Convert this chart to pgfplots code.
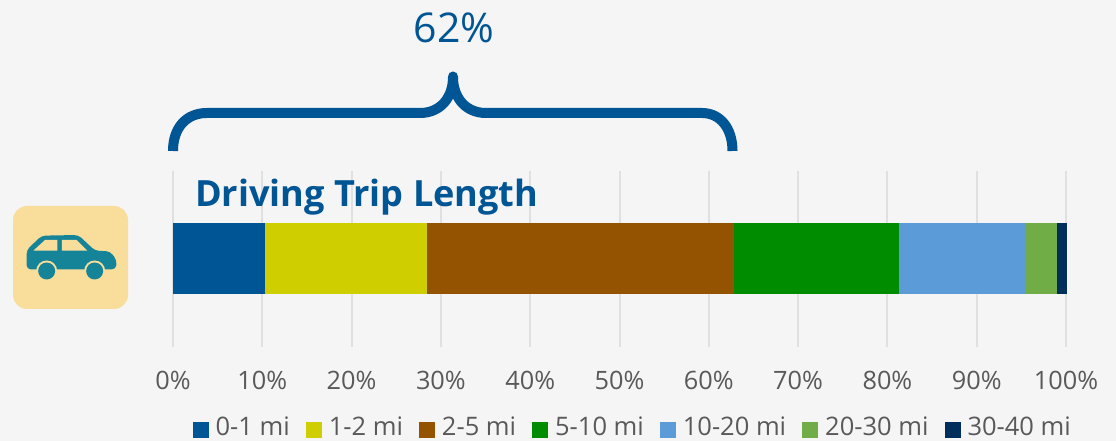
\documentclass[border=0pt]{standalone}
\usepackage{pgfplots}
\pgfplotsset{compat=1.18}
\usepackage{fontspec}
\setmainfont{Open Sans}
\definecolor{bg}{HTML}{F5F5F5}
\definecolor{c1}{HTML}{005594}
\definecolor{c2}{HTML}{CFCE00}
\definecolor{c3}{HTML}{935300}
\definecolor{c4}{HTML}{008C00}
\definecolor{c5}{HTML}{5B9BD8}
\definecolor{c6}{HTML}{70AD47}
\definecolor{c7}{HTML}{002F5C}
\definecolor{gridc}{HTML}{E0E0E0}
\definecolor{txt}{HTML}{595959}
\definecolor{iconbg}{HTML}{F8DD9B}
\definecolor{car}{HTML}{168498}
\begin{document}
\begin{tikzpicture}[x=1pt,y=1pt]
\fill[bg] (0,0) rectangle (1116,441);
\begin{axis}[
  at={(173pt,94.3pt)}, anchor=south west,
  scale only axis, width=893pt, height=176pt,
  xmin=0, xmax=100, ymin=0, ymax=1,
  xbar stacked, bar width=71pt, bar shift=0pt,
  axis line style={draw=none},
  clip=false,
  major tick length=0pt,
  xtick={0,10,...,100}, ytick=\empty,
  xticklabel={\pgfmathprintnumber{\tick}\%},
  xticklabel style={text=txt,font=\fontsize{25.3}{28}\selectfont,yshift=-21pt},
  /pgf/number format/assume math mode=true,
  xmajorgrids, grid style={draw=gridc,line width=2pt},
  legend columns=-1,
  legend style={at={(axis cs:2.2,0)},anchor=north west,yshift=-70pt,draw=none,fill=none,
    inner sep=0pt,outer sep=0pt,
    font=\fontsize{25.5}{28}\selectfont,text=txt,
    /tikz/every odd column/.style={column sep=7pt},
    /tikz/every even column/.style={column sep=16pt},
    nodes={inner sep=0pt}},
  legend image code/.code={\fill[#1,draw=none] (0pt,-11pt) rectangle (16pt,5pt);},
]
\addplot[fill=c1,draw=none] coordinates {(10.3,0.5)};
\addplot[fill=c2,draw=none] coordinates {(18.1,0.5)};
\addplot[fill=c3,draw=none] coordinates {(34.4,0.5)};
\addplot[fill=c4,draw=none] coordinates {(18.5,0.5)};
\addplot[fill=c5,draw=none] coordinates {(14.1,0.5)};
\addplot[fill=c6,draw=none] coordinates {(3.6,0.5)};
\addplot[fill=c7,draw=none] coordinates {(1.1,0.5)};
\legend{0-1 mi,1-2 mi,2-5 mi,5-10 mi,10-20 mi,20-30 mi,30-40 mi}
\end{axis}
\begin{scope}[shift={(0,441)},x=1pt,y=-1pt]
  % brace
  \draw[c1,line width=10pt,line cap=butt]
    (173,151) .. controls (173,128) and (186,113) .. (207,113)
    -- (420,113) .. controls (440,113) and (453,98) .. (453,77)
    .. controls (453,98) and (466,113) .. (486,113)
    -- (702,113) .. controls (720,113) and (732.5,128) .. (732.5,151);
  \fill[c1] (453,76.5) circle (5pt);
  \node[c1,font=\fontsize{41}{46}\selectfont] at (454,28) {62\%};
  \node[c1,anchor=west,font=\fontsize{36.1}{42}\selectfont\bfseries,inner sep=0pt] at (195,197) {Driving Trip Length};
  % icon
  \fill[iconbg,rounded corners=14pt] (13,206) rectangle (128,309);
  \begin{scope}[shift={(0,190)},x=0.3333pt,y=-0.3333pt]
    \fill[car,rounded corners=4pt] (80,238) -- (80,180) -- (125,137) -- (235,135) -- (285,182)
      -- (330,184) -- (350,210) -- (348,238) -- cycle;
    \fill[iconbg] (100,182) -- (135,150) -- (172,150) -- (172,182) -- cycle;
    \fill[iconbg] (186,150) -- (230,150) -- (262,182) -- (186,182) -- cycle;
    \fill[iconbg] (140,243) circle (10.5pt);
    \fill[iconbg] (284,243) circle (10.5pt);
    \fill[car] (140,243) circle (8.5pt);
    \fill[car] (284,243) circle (8.5pt);
  \end{scope}
\end{scope}
\path[use as bounding box] (0,0) rectangle (1116,441);
\end{tikzpicture}
\end{document}
